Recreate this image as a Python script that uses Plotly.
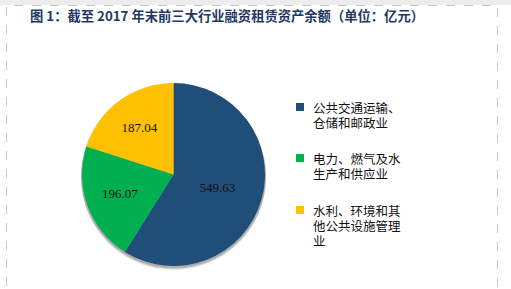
import plotly.graph_objects as go

categories = ["公共交通运输、<br>仓储和邮政业", "电力、燃气及水<br>生产和供应业", "水利、环境和其<br>他公共设施管理<br>业"]
values = [549.63, 196.07, 187.04]
colors = ["#1F4E79", "#00B050", "#FFC000"]
title_text = "图 1：截至 2017 年末前三大行业融资租赁资产余额（单位：亿元）"

W, H = 511, 289
def px(x): return x / W
def py(y): return 1 - y / H

fig = go.Figure()
fig.add_trace(go.Pie(
    labels=categories, values=values, sort=False, direction="clockwise", rotation=0,
    marker=dict(colors=colors, line=dict(width=0)),
    texttemplate="%{value:.2f}", textposition="inside", insidetextorientation="horizontal",
    textfont=dict(family="Liberation Serif", size=13, color="#111111"),
    domain=dict(x=[px(82), px(265)], y=[py(266), py(83)]),
    showlegend=False, hoverinfo="label+value",
))

shapes = [
    dict(type="rect", xref="paper", yref="paper", x0=0, x1=1, y0=py(5), y1=1,
         fillcolor="#ececec", line=dict(width=0), layer="below"),
    dict(type="rect", xref="paper", yref="paper", x0=px(6.5), x1=px(497.5), y0=py(300), y1=py(5.5),
         fillcolor="rgba(0,0,0,0)", line=dict(color="#c8c8c8", width=1, dash="dash"), layer="below"),
]
# soft shadow under pie
for off, op in [(4, 0.10), (3, 0.12), (2, 0.15)]:
    shapes.append(dict(type="circle", xref="paper", yref="paper",
                       x0=px(82 - 1), x1=px(265 + 1), y0=py(266 + off), y1=py(83 + off - 1),
                       fillcolor=f"rgba(0,0,0,{op})", line=dict(width=0), layer="below"))

annotations = [dict(text=f"<b>{title_text}</b>", xref="paper", yref="paper", x=px(28), y=py(16),
                    xanchor="left", yanchor="middle", showarrow=False,
                    font=dict(family="Noto Sans CJK SC", size=13.3, color="#1F3864"))]

legend_y = [107, 158, 210]
line_gap = 15
for cat, col, ly in zip(categories, colors, legend_y):
    shapes.append(dict(type="rect", xref="paper", yref="paper", x0=px(296), x1=px(304),
                       y0=py(ly + 4), y1=py(ly - 4), fillcolor=col, line=dict(width=0)))
    for k, line in enumerate(cat.split("<br>")):
        annotations.append(dict(text=line, xref="paper", yref="paper", x=px(311), y=py(ly + k * line_gap),
                                xanchor="left", yanchor="middle", align="left", showarrow=False,
                                font=dict(family="Noto Sans CJK SC", size=12.5, color="#111111")))

fig.update_layout(width=W, height=H, margin=dict(l=0, r=0, t=0, b=0),
                  paper_bgcolor="white", plot_bgcolor="white",
                  shapes=shapes, annotations=annotations)
fig.write_html("out.html")
